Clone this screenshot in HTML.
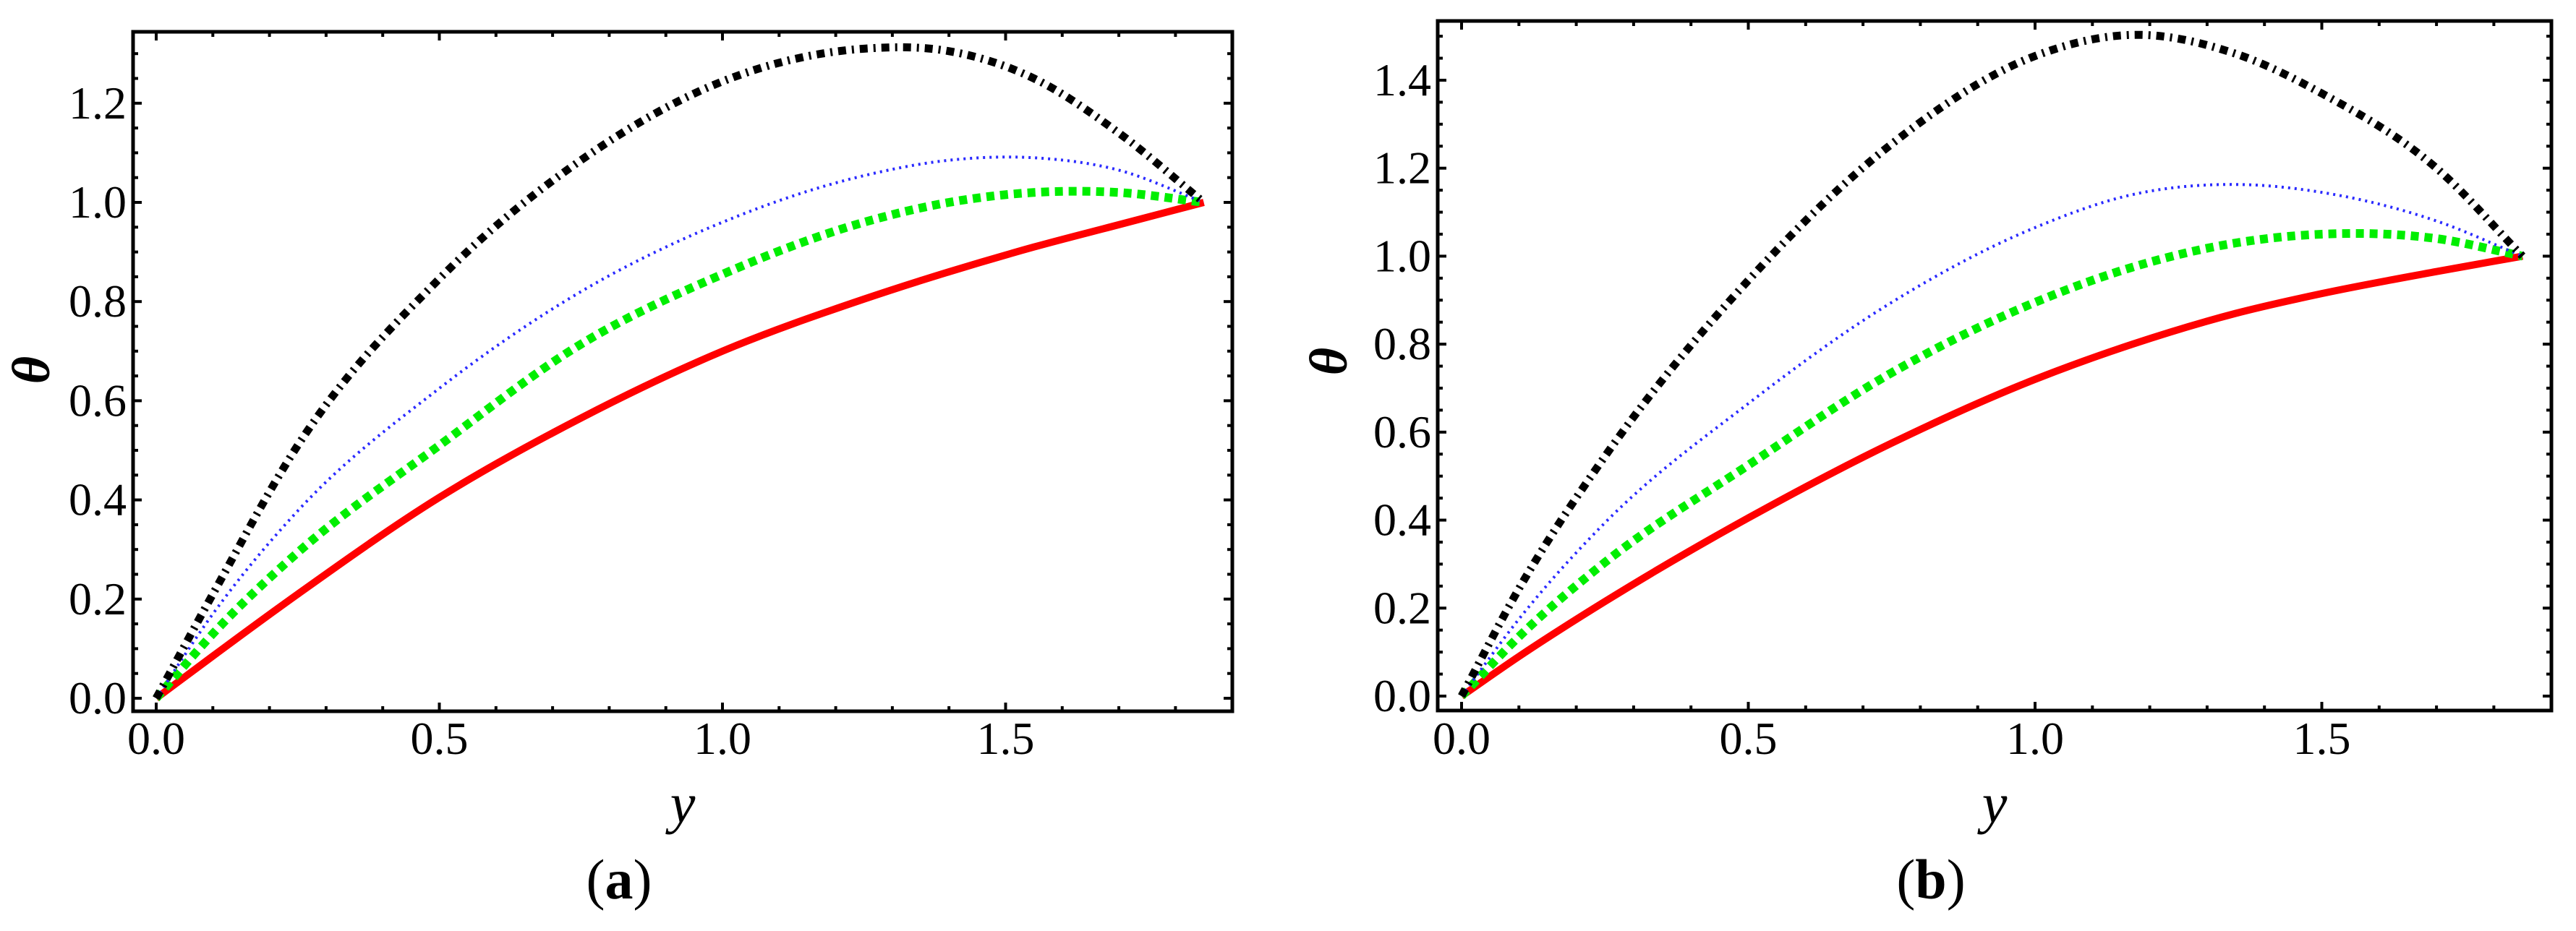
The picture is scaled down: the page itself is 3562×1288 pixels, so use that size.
<!DOCTYPE html>
<html><head><meta charset="utf-8"><style>
html,body{margin:0;padding:0;background:#fff;}
svg{display:block;}
svg text{font-family:"Liberation Serif","Times New Roman",Times,"DejaVu Serif",serif !important;}
</style></head><body>
<svg id="fig" width="3562" height="1288" viewBox="0 0 3562 1288" xmlns="http://www.w3.org/2000/svg"></svg>
<script>
// ---- data: x positions (y coordinate) ----
const xsA = [0, 0.1, 0.25, 0.5, 0.75, 1.0, 1.25, 1.4, 1.55, 1.7, 1.85];
const redA   = [0, 0.085, 0.21, 0.405, 0.565, 0.70, 0.805, 0.86, 0.91, 0.955, 1.0];
const greenA = [0, 0.13, 0.294, 0.51, 0.714, 0.855, 0.96, 1.0, 1.02, 1.02, 1.0];
const blueA  = [0, 0.17, 0.378, 0.625, 0.82, 0.96, 1.054, 1.085, 1.09, 1.065, 1.0];
const blackA = [0, 0.21, 0.51, 0.846, 1.085, 1.244, 1.31, 1.305, 1.25, 1.14, 1.0];

const xsB = [0, 0.1, 0.25, 0.5, 0.75, 1.0, 1.17, 1.35, 1.5, 1.7, 1.85];
const redB   = [0, 0.09, 0.215, 0.405, 0.575, 0.72, 0.8, 0.87, 0.915, 0.965, 1.0];
const greenB = [0, 0.135, 0.304, 0.525, 0.735, 0.895, 0.975, 1.03, 1.05, 1.04, 1.0];
const blueB  = [0, 0.175, 0.394, 0.665, 0.895, 1.065, 1.14, 1.163, 1.145, 1.08, 1.0];
const blackB = [0, 0.244, 0.545, 0.945, 1.255, 1.455, 1.503, 1.46, 1.37, 1.2, 1.0];

const xTickLabels = ["0.0", "0.5", "1.0", "1.5"];
const yTickLabelsA = ["0.0", "0.2", "0.4", "0.6", "0.8", "1.0", "1.2"];
const yTickLabelsB = ["0.0", "0.2", "0.4", "0.6", "0.8", "1.0", "1.2", "1.4"];

const NS = "http://www.w3.org/2000/svg";
const svg = document.getElementById("fig");
const FONTSTYLE = 'font-family:"Liberation Serif","Times New Roman",Times,serif';
function mk(tag, attrs, parent) {
  const e = document.createElementNS(NS, tag);
  for (const k in attrs) e.setAttribute(k, attrs[k]);
  (parent || svg).appendChild(e);
  return e;
}
function smoothPath(xs, ys, sx, sy) {
  const n = xs.length, m = [];
  for (let i = 0; i < n; i++) {
    if (i === 0) m.push((ys[1] - ys[0]) / (xs[1] - xs[0]));
    else if (i === n - 1) m.push((ys[n - 1] - ys[n - 2]) / (xs[n - 1] - xs[n - 2]));
    else {
      const d0 = (ys[i] - ys[i - 1]) / (xs[i] - xs[i - 1]), d1 = (ys[i + 1] - ys[i]) / (xs[i + 1] - xs[i]);
      const h0 = xs[i] - xs[i - 1], h1 = xs[i + 1] - xs[i];
      m.push((d0 * h1 + d1 * h0) / (h0 + h1));
    }
  }
  let d = "M" + sx(xs[0]) + "," + sy(ys[0]);
  for (let i = 0; i < n - 1; i++) {
    const h = xs[i + 1] - xs[i];
    d += " C" + sx(xs[i] + h / 3) + "," + sy(ys[i] + m[i] * h / 3) + " " +
      sx(xs[i + 1] - h / 3) + "," + sy(ys[i + 1] - m[i + 1] * h / 3) + " " +
      sx(xs[i + 1]) + "," + sy(ys[i + 1]);
  }
  return d;
}

function panel(cfg) {
  const g = mk("g", {});
  
  
  const L = cfg.left, R = cfg.right, T = cfg.top, B = cfg.bottom;
  const sx = v => cfg.x0 + v * cfg.xu;
  const sy = v => cfg.y0 - v * cfg.yu;

  const tg = mk("g", {stroke: "#000", "stroke-width": 4}, g);
  
  
  for (let i = 0; i <= 19; i++) {
    const v = i * 0.1, x = sx(v);
    if (x > R - 3) break;
    const len = (i % 5 === 0) ? 12 : 7;
    mk("line", {x1: x, y1: B, x2: x, y2: B - len}, tg);
    mk("line", {x1: x, y1: T, x2: x, y2: T + len}, tg);
  }
  for (let i = -1; i <= 40; i++) {
    const v = i * 0.05, y = sy(v);
    if (y < T + 3 || y > B - 3) continue;
    const len = (i % 4 === 0) ? 12 : 7;
    mk("line", {x1: L, y1: y, x2: L + len, y2: y}, tg);
    mk("line", {x1: R, y1: y, x2: R - len, y2: y}, tg);
  }
  const fr = mk("rect", {x: L, y: T, width: R - L, height: B - T, fill: "none", stroke: "#000", "stroke-width": 5}, g);
  
  

  xTickLabels.forEach((lab, i) => {
    const t = mk("text", {x: sx(i * 0.5), y: 1043, "font-size": 64, style: FONTSTYLE, "text-anchor": "middle"}, g);
    
    
    t.textContent = lab;
  });
  cfg.yLabels.forEach((lab, i) => {
    const t = mk("text", {x: L - 9, y: sy(i * 0.2) + 21, "font-size": 64, style: FONTSTYLE, "text-anchor": "end"}, g);
    
    
    t.textContent = lab;
  });

  const series = [
    {n: "series-solid-red", d: cfg.red, st: {stroke: "#ff0000", "stroke-width": 10}},
    {n: "series-dashed-green", d: cfg.green, st: {stroke: "#00ee00", "stroke-width": 12, "stroke-dasharray": "11 8"}},
    {n: "series-dotted-blue", d: cfg.blue, st: {stroke: "#2a2aff", "stroke-width": 4, "stroke-dasharray": "3 6"}},
    {n: "series-dotdash-black", d: cfg.black, st: {stroke: "#000", "stroke-width": 11, "stroke-dasharray": "11 8 3 8"}}
  ];
  series.forEach(s => {
    const attrs = Object.assign({d: smoothPath(cfg.xs, s.d, sx, sy), fill: "none"}, s.st);
    const p = mk("path", attrs, g);
    
    
  });

  const cx = (L + R) / 2;
  const xt = mk("text", {x: cx, y: 1138, "font-size": 78, style: FONTSTYLE, "font-style": "italic", "text-anchor": "middle"}, g);
  
  
  xt.textContent = "y";
  const yt = mk("text", {x: 0, y: 0, "font-size": 74, style: FONTSTYLE, "font-style": "italic", "font-weight": "bold", "text-anchor": "middle",
    transform: "translate(" + cfg.thetaX + "," + cfg.thetaY + ") rotate(-90)"}, g);
  
  
  yt.textContent = "θ";
  const cap = mk("text", {x: cx - 88, y: 1243, "font-size": 78, style: FONTSTYLE, "text-anchor": "middle"}, g);
  
  
  cap.innerHTML = '(<tspan font-weight="bold">' + cfg.letter + '</tspan>)';
}

panel({name: "panel-a", left: 184, right: 1704, top: 44, bottom: 984, x0: 216, xu: 783, y0: 966, yu: 686,
  xs: xsA, red: redA, green: greenA, blue: blueA, black: blackA, yLabels: yTickLabelsA, letter: "a", thetaX: 68, thetaY: 512});
panel({name: "panel-b", left: 1988, right: 3528, top: 29, bottom: 983, x0: 2021, xu: 793, y0: 963, yu: 608.6,
  xs: xsB, red: redB, green: greenB, blue: blueB, black: blackB, yLabels: yTickLabelsB, letter: "b", thetaX: 1862, thetaY: 500});
</script>
</body></html>
